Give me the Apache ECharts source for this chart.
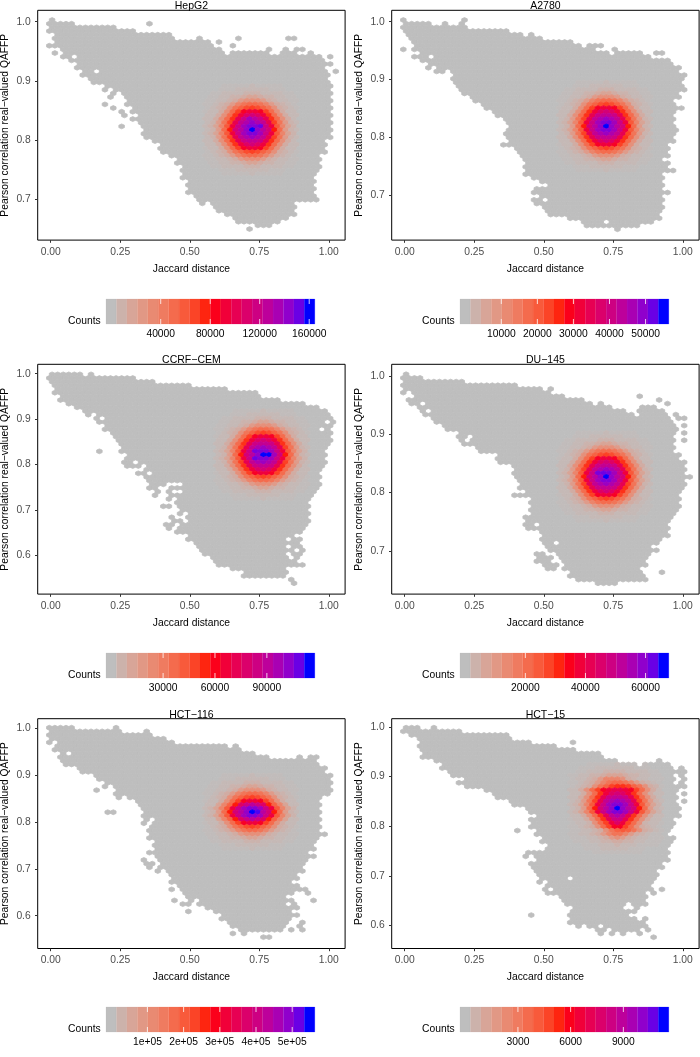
<!DOCTYPE html>
<html><head><meta charset="utf-8">
<style>html,body{margin:0;padding:0;background:#fff}#c{width:700px;height:1057px}</style>
<script src="https://cdn.jsdelivr.net/npm/echarts@6/dist/echarts.min.js"></script>
</head><body><div id="c"></div>
<script>
const names=["HepG2","A2780","CCRF−CEM","DU−145","HCT−116","HCT−15"];
const xTicks=[0,0.25,0.5,0.75,1];
const yTicks=[[0.7,0.8,0.9,1],[0.7,0.8,0.9,1],[0.6,0.7,0.8,0.9,1],[0.7,0.8,0.9,1],[0.6,0.7,0.8,0.9,1],[0.6,0.7,0.8,0.9,1]];
const maxCounts=[160300,55000,114700,66000,548000,11290];
const countTicks=[[40000,80000,120000,160000],[10000,20000,30000,40000,50000],[30000,60000,90000],[20000,40000,60000],[100000,200000,300000,400000,500000],[3000,6000,9000]];
const topRowY=[1.0028,1.0029,0.9985,1.0029,1.0007,0.9987];
const rowStepY=[0.0062,0.00634,0.00806,0.00629,0.00783,0.00741];
const peakRow=[30,29,22,28,23,22];
const peakCol=[36,36,38,36,36,38];
// occupied hexagon columns, one string per hexagon row, top to bottom
const hepg2Rows=["0","0-4 18","0-11","0-15","1-21","1-22 27 34 43-44","1-28 30","0-29 33","2-30 39 42 44-45","1 3-31 33-39 42-44 47","2-3 5-48 50","4-49","5-50","5-49","6-7 9-49 51","6-50","7-49","8-50","10-11 12-50","10 12-50","11 13-50","11 14-50","14-50","10 14-50","11 15-50","13 15-50","13 16-50","15-50","16-50","13 17-50","17-50","17-50","17-50","19-49","20-49","20-49","20-49","22-48","23-48","23-48","24-48","24-48","24-47","24-47","25-47","25-47","25-47","25-47","26-47","27-48","27 29-43","30-44","30-43","32-44","33-42","34-41","37-39","36"];
const a2780Rows=["0 11","0-4 7 10","0-11","0-18","1-21 23","1-24","2-30","2-31 33-35","0 2-34 38","3-36 38-42 45 46","2-4 6-44","3-47","5-48","4 6-49","6-7 9-49","9-50","9-50","9-49","10-50","10-11 12-49 50","11-49","12-49","13-48","14-48","15-49 50","16-48","17-48","18-48","19-48","19-48","19-49","18-48","19-48","19-48","18-47","20-47","21-47","21-47","22-46","22-47","22-47","22-48","22-46","23-46","25-46","26-46","24-46","23-47","25-46","23-24 26-46","24-46","25-46","26-46","26-45","30-46","32-35 37-44","33-42","38"];
const ccrfRows=["0-5 7","0-15","0-18","1-25","1-31","1 2-37","2-37","2-41","3-45","5-48","6-8 9-49","7 9-50","8 10-50","9-49 51","10-50","10-48 50","11-50","12-50","12-50","13-50","13-49","9 13-49","14-49","14-49","13-14 16-49","14-16 18-49","17-48","16-17 19-48","17-18 19-48","18-48","18-20 24-48","18-19 22-48","19 21 24-47","19 22 23-47","21 23-46","23-46","20-21 23-46","24-46","23 25-46","22 25-46","22-23 25-46","21-22 24-46","21 23-45","23-45","25-43","25-42 44-45","26-42 43-44","27-42 44-45","27-43 45","28-42 44-45","29-42 44","30-43 44","30-42 43-45","33-42","35-42","35-42","43","44"];
const du145Rows=["0","0-3","0-10","0-20","0-24 26","0 2-26","2-28 42","1-2 3-32 46","1-2 4-33 35 47","3-37 43-45","3 5-39 42-46","4-5 6-40 41 43-47 49","5-47 49 50","6-48","7-48 50","8-49","10-11 12-48 50","10-11 13-48","10 12-48 50","11-13 14-48","13-16 17-48","14-48","17-49","17-49","17-50","20-50","20-50","20-50","20-51","21-50","21-50","21-50","22-49","20-21 22-49","23-49","23-49","23-49","23-49","23-48","22-48","22-47","22-23 25-47","22-47","25-47","25-47","25-46","25-26 28-45","26-44","26-45","24-25 28-44","24-26 28-43","24-26 29-43","25-27 29-43","26-27 29-42","30-42 46","30-43","31-43","35-37 38"];
const hct116Rows=["0-4 12","0-11 12 17","0-18","0-20","0 2-22","1-31 33","1-34","2 4-36","2-39 45 47 48","2-47","3-48","5-49","6-49","8-50","9-49 50","10 11-50","10 12-50","8 12-50","12-50","12 14-48","16-48","16-48","17-48","10-11 17-48","17-48","17 19-48","17 19-48","18-48","18-48","18-49","18-48","19-47","19-47","19-47","18-46","19-47","17 20-46","17 18 20-45","18 20-45","19 21-45","22-44","22-44","22-43","23-44","22 24-45 46","24-43 46","25-42","22 25 27-43 47","24-25 27-42 44","28-43 44","25 30-43","31-44","31-43","32-42 45","33-42 45","34-41 43 45","33 35","38-39"];
const hct15Rows=["0-2 5","0-10","1-18","3-19","3-22 30","3-27","3-30","4-35","3 4-35","6-38 46","7-41 43-47","7-48 50","8-49 50","9-48 50","11-48 50","10-48 50","11-50","15-49","16-48 50","17-49","19-48 50","20-49","22-49","23-49","24-49","23-48","23-48","23-48","20 24-47","24-47","25-48","25-48","26-47","26-47","22-23 24-47","22 24-47","24-47","23-46","23-46","24-45","24-45","25-29 31-45","24 26-44","26-44","25 27-44 46","26-27 28-43 45","28-43","29-43","29 30-39 41-43","31-39 42","30-39 40-41","23 30-40","30-41 43","30-43","31 33-34 36-43","35-36 38-42 44","35 37 39 42","45"];
// counts around the peak, base-36 digit = level; rows centred on peakRow, 17 columns centred on peakCol
const hepg2Heat=["00011111211111000","00011122222211100","01122223332222110","01122334554332211","11223467776432211","1123468abba864321","12347acefeca74321","12247bfijjifb7422","2247bgjlmljgb7422","2247bgknrpnkgb742","236afkoqtqokfa632","2358djnruuwnjd853","236bhmptztpmhb632","2358djnruurnjd853","236afkoqsqokfa632","2247bgknoonkgb742","2247bgjlmljgb7422","12247bfijjifb7422","12347acefeca74321","1123468abba864321","11223467776432211","01122334554332211","01122223332222110","00011122222211100","00011111211111000"];
const a2780Heat=["00011111211111000","00011122222211100","01122223332222110","01122334554332211","11223467776432211","1123468abba864321","12347acefeca74321","12247bfijjifb7422","2247bgjlmljgb7422","2247bgknoonkgb742","236afkoqsqokfa632","2358djnruvrnjd853","236bhmptztpmhb632","2358djnruurnjd853","236afkoqsqokfa632","2247bgknoonkgb742","2247bgjlmljgb7422","12247bfijjifb7422","12347acefeca74321","1123468abba864321","11223467776432211","01122334554332211","01122223332222110","00011122222211100","00011111211111000"];
const ccrfHeat=["00011111211111000","00011122222211100","01122223332222110","01122334554332211","11223467776432211","1123468abba864321","12347acefeca74321","12247bfijjifb7422","2247bgjlmljgb7422","2247bgknoonkgb742","236afkoqsqokfa632","2358djnvuurnjd853","236bhmptzzrmhb632","2358djnwuurnjd853","236afkoqsqokfa632","2247bgknoonkgb742","2247bgjlmljgb7422","12247bfijjifb7422","12347acefeca74321","1123468abba864321","11223467776432211","01122334554332211","01122223332222110","00011122222211100","00011111211111000"];
const du145Heat=["00011111211111000","00011122222211100","01122223332222110","01122334554332211","11223467776432211","1123468abba864321","12347acefeca74321","12247bfijjifb7422","2247bgjlmljgb7422","2247bgknoonkgb742","236afkoqsqokfa632","2358djnvwvrnjd853","236bhmptztpmhb632","2358djnruurnjd853","236afkoqsqokfa632","2247bgknoonkgb742","2247bgjlmljgb7422","12247bfijjifb7422","12347acefeca74321","1123468abba864321","11223467776432211","01122334554332211","01122223332222110","00011122222211100","00011111211111000"];
const hct116Heat=["00011111211111000","00011122222211100","01122223332222110","01122334554332211","11223467776432211","1123468abba864321","12347acefeca74321","12247bfijjifb7422","2258chlnpnlhc8522","2358djnruurnjd853","236bhmptzypmhb632","2358djnruurnjd853","2258chlnpnlhc8522","12247bfijjifb7422","12347acefeca74321","1123468abba864321","11223467776432211","01122334554332211","01122223332222110","00011122222211100","00011111211111000"];
const hct15Heat=["00011111211111000","00111222222211100","01122233332222110","11223345554332211","12234688874322111","1123468abba864321","12347acfggfca7431","2247bfijkkjifb742","2247bgjlmljgb7422","2247bgknoonkgb742","236afkoqsqokfa632","2358djnruurnjd853","236bhmptztpmhb632","2358djnruurnjd853","2247bgkoqokgb7422","12247bgknnkgb7422","12237bfjljfb73221","112347bfiifb74321","1122347acdca74321","11223468aa8643211","11122346764322111","01112233443322111","00111222322211110","00011122222111000","00001111111110000"];
// count (in 35ths of the maximum) that each level stands for
const levelCounts=[0,0.3,0.8,1.6,2.6,3.8,5,6.5,8,9,10,11,12,13,14,15,16,17,19,20.5,22,23.5,25,26,27,28,29,30,30.5,31,32,32.5,33,33.5,34,35];
const allRows=[hepg2Rows,a2780Rows,ccrfRows,du145Rows,hct116Rows,hct15Rows];
const allHeat=[hepg2Heat,a2780Heat,ccrfHeat,du145Heat,hct116Heat,hct15Heat];
const xLabel="Jaccard distance", yLabel="Pearson correlation real−valued QAFFP", legendLabel="Counts";

// layout (pixels) and axis windows
const frames=[[37.7,10.3],[391.7,10.3],[37.7,364.3],[391.7,364.3],[37.7,718.7],[391.7,718.7]];
const frameW=307.4, frameH=229.8;
const bars=[[106,299],[460,299],[106,653],[460,653],[106,1007],[460,1007]];
const barW=208.8, barH=25;
const xWin=[-0.0468,1.0586];
const yWin=[[0.6307,1.0193],[0.6228,1.0197],[0.5152,1.0207],[0.6258,1.02],[0.5302,1.0199],[0.5535,1.0168]];
const FONT='"Liberation Sans",Arial,Helvetica,sans-serif';
const TXT=10.3;

// colour ramp grey -> red -> blue, interpolated in Lab
const LAB=[[77.0,0,0],[53.24,80.09,67.2],[32.3,79.19,-107.86]];
function lab2rgb(L,a,b){
  const fy=(L+16)/116,fx=fy+a/500,fz=fy-b/200;
  const g=t=>t>0.206897?t*t*t:(t-16/116)/7.787;
  const X=0.95047*g(fx),Y=g(fy),Z=1.08883*g(fz);
  const lin=[3.2406*X-1.5372*Y-0.4986*Z,-0.9689*X+1.8758*Y+0.0415*Z,0.0557*X-0.2040*Y+1.0570*Z];
  const c=lin.map(v=>{v=Math.max(0,Math.min(1,v));return Math.round(255*(v<=0.0031308?12.92*v:1.055*Math.pow(v,1/2.4)-0.055));});
  return 'rgb('+c.join(',')+')';
}
function ramp(t){
  t=Math.max(0,Math.min(1,t));
  const s=t<0.5?0:1,f=t<0.5?t*2:(t-0.5)*2,A=LAB[s],B=LAB[s+1];
  return lab2rgb(A[0]+(B[0]-A[0])*f,A[1]+(B[1]-A[1])*f,A[2]+(B[2]-A[2])*f);
}
function parseRow(s){
  const out=[];
  s.split(' ').forEach(p=>{const q=p.split('-').map(Number);
    for(let j=q[0];j<=(q.length>1?q[1]:q[0]);j++)out.push(j);});
  return out;
}
function cellsFor(i){
  const cells=[],rows=allRows[i],heat=allHeat[i],pr=peakRow[i],pc=peakCol[i];
  const half=(heat.length-1)/2,phase=pr%2;
  rows.forEach((s,r)=>{
    const line=heat[r-pr+half];
    parseRow(s).forEach(j=>{
      let level=0;
      if(line){const ch=line[j-pc+8];if(ch!==undefined)level=parseInt(ch,36);}
      const x=-0.005+j*0.02+((r+phase)%2===0?0.01:0);
      const y=topRowY[i]-r*rowStepY[i];
      cells.push([x,y,levelCounts[level]/35*maxCounts[i]]);
    });
  });
  return cells;
}
const grid=[],xAxis=[],yAxis=[],series=[],title=[];
names.forEach((name,i)=>{
  const f=frames[i],mx=maxCounts[i];
  grid.push({left:f[0],top:f[1],width:frameW,height:frameH,show:true,borderColor:'#000',borderWidth:1,backgroundColor:'#fff',outerBoundsMode:'none'});
  const tickStyle={show:true,length:2.7,lineStyle:{color:'#333',width:1}};
  xAxis.push({gridIndex:i,type:'value',min:xWin[0],max:xWin[1],splitLine:{show:false},axisLine:{show:false,onZero:false},
    axisTick:Object.assign({customValues:xTicks},tickStyle),
    axisLabel:{customValues:xTicks,formatter:v=>v.toFixed(2),color:'#4D4D4D',fontSize:TXT,fontFamily:FONT,margin:7},
    name:xLabel,nameLocation:'middle',nameGap:24,nameTextStyle:{color:'#000',fontSize:TXT,fontFamily:FONT}});
  yAxis.push({gridIndex:i,type:'value',min:yWin[i][0],max:yWin[i][1],splitLine:{show:false},axisLine:{show:false,onZero:false},
    axisTick:Object.assign({customValues:yTicks[i]},tickStyle),
    axisLabel:{customValues:yTicks[i],formatter:v=>v.toFixed(1),color:'#4D4D4D',fontSize:TXT,fontFamily:FONT,margin:7},
    name:yLabel,nameLocation:'middle',nameGap:28,nameTextStyle:{color:'#000',fontSize:TXT,fontFamily:FONT}});
  const R=rowStepY[i]/1.5,hw=0.01;
  series.push({type:'custom',xAxisIndex:i,yAxisIndex:i,coordinateSystem:'cartesian2d',animation:false,progressive:0,silent:true,
    data:cellsFor(i),encode:{x:0,y:1},
    renderItem:(p,api)=>{
      const x=api.value(0),y=api.value(1),c=ramp(api.value(2)/mx);
      const pts=[[x,y+R],[x+hw,y+R/2],[x+hw,y-R/2],[x,y-R],[x-hw,y-R/2],[x-hw,y+R/2]].map(q=>api.coord(q));
      return {type:'polygon',shape:{points:pts},style:{fill:c,stroke:c,lineWidth:0.8}};
    }});
  title.push({text:name,left:f[0]+frameW/2,top:f[1]-9.5,textAlign:'center',padding:0,textStyle:{fontSize:10.5,fontWeight:'normal',color:'#000',fontFamily:FONT}});
});
names.forEach((name,i)=>{
  const b=bars[i],mx=maxCounts[i],k=6+i,step=mx/19;
  grid.push({left:b[0],top:b[1],width:barW,height:barH,show:false,outerBoundsMode:'none'});
  xAxis.push({gridIndex:k,type:'value',min:-step/2,max:mx+step/2,splitLine:{show:false},axisLine:{show:false,onZero:false},axisTick:{show:false,customValues:countTicks[i]},
    axisLabel:{customValues:countTicks[i],formatter:v=>i===4?(v/100000)+'e+05':String(v),color:'#000',fontSize:TXT,fontFamily:FONT,margin:5}});
  yAxis.push({gridIndex:k,type:'value',min:0,max:1,show:false});
  const bands=[];for(let n=0;n<20;n++)bands.push([n*step,n/19]);
  series.push({type:'custom',xAxisIndex:k,yAxisIndex:k,animation:false,silent:true,data:bands,encode:{x:0},
    renderItem:(p,api)=>{
      const v=api.value(0),a=api.coord([v-step/2,1]),c=api.coord([v+step/2,0]);
      const col=ramp(api.value(1));
      return {type:'rect',shape:{x:a[0],y:a[1],width:c[0]-a[0],height:c[1]-a[1]},style:{fill:col,stroke:col,lineWidth:0.2}};
    }});
  series.push({type:'custom',xAxisIndex:k,yAxisIndex:k,animation:false,silent:true,z:5,data:countTicks[i].map(v=>[v]),encode:{x:0},
    renderItem:(p,api)=>{
      const v=api.value(0),A=api.coord([v,1]),B=api.coord([v,0.8]),C=api.coord([v,0.2]),D=api.coord([v,0]);
      const st={stroke:'#fff',lineWidth:0.8};
      return {type:'group',children:[
        {type:'line',shape:{x1:A[0],y1:A[1],x2:B[0],y2:B[1]},style:st},
        {type:'line',shape:{x1:C[0],y1:C[1],x2:D[0],y2:D[1]},style:st}]};
    }});
  title.push({text:legendLabel,left:b[0]-5.3,top:b[1]+17,textAlign:'right',padding:0,textStyle:{fontSize:TXT,fontWeight:'normal',color:'#000',fontFamily:FONT}});
});
const chart=echarts.init(document.getElementById('c'),null,{renderer:'canvas'});
chart.setOption({animation:false,backgroundColor:'#fff',title,grid,xAxis,yAxis,series});
</script></body></html>
